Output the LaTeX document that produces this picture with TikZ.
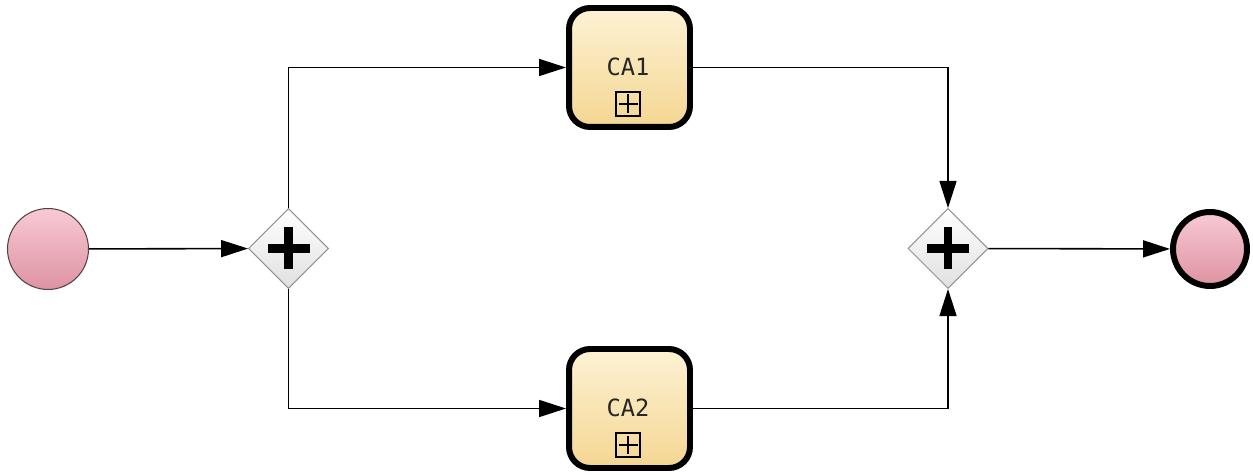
\documentclass[tikz,border=0pt]{standalone}
\usepackage{fontspec}
\setmonofont{DejaVu Sans Mono}
\usetikzlibrary{arrows.meta,shapes.geometric}
\definecolor{tasktop}{RGB}{253,242,212}
\definecolor{taskbot}{RGB}{244,214,146}
\definecolor{evtop}{RGB}{248,202,212}
\definecolor{evbot}{RGB}{222,146,162}
\definecolor{gwbot}{RGB}{224,224,224}
\tikzset{
  flowln/.style={-{Triangle[length=0.54cm,width=0.34cm]}, line width=0.9pt, black},
  taskbox/.style={rectangle, rounded corners=0.42cm, line width=3.4pt, draw=black,
    top color=tasktop, bottom color=taskbot, minimum width=2.42cm, minimum height=2.38cm,
    inner sep=0pt},
  submark/.style={rectangle, draw=black, line width=0.7pt, minimum size=0.48cm, inner sep=0pt,
    path picture={
      \draw[black, line width=0.7pt] ([xshift=-0.19cm]path picture bounding box.center) -- ++(0.38cm,0pt);
      \draw[black, line width=0.7pt] ([yshift=-0.19cm]path picture bounding box.center) -- ++(0pt,0.38cm);
    }},
  andgate/.style={diamond, aspect=1, draw=gray!85, line width=0.6pt, minimum width=1.6cm,
    minimum height=1.6cm, inner sep=0pt, top color=white, bottom color=gwbot,
    path picture={
      \draw[black, line width=5.1pt] ([xshift=-0.42cm]path picture bounding box.center) -- ++(0.84cm,0pt);
      \draw[black, line width=5.1pt] ([yshift=-0.42cm]path picture bounding box.center) -- ++(0pt,0.84cm);
    }},
  startev/.style={circle, draw={rgb,255:red,85;green,65;blue,70}, line width=0.6pt,
    minimum size=1.62cm, inner sep=0pt, top color=evtop, bottom color=evbot},
  endev/.style={circle, draw=black, line width=3.4pt, minimum size=1.48cm, inner sep=0pt,
    top color=evtop, bottom color=evbot},
  tasklbl/.style={font=\ttfamily\fontsize{13.5}{15}\selectfont, text=black!85},
}
\begin{document}
\begin{tikzpicture}[x=0.02cm, y=-0.02cm]
  \useasboundingbox (0,0) rectangle (1253,475);
  % events and gateways
  \node[startev] (start) at (48,249) {};
  \node[andgate] (split) at (288.5,248.5) {};
  \node[andgate] (join) at (948,248.5) {};
  \node[endev] (end) at (1210,249) {};
  % sub-processes
  \node[taskbox] (ca1) at (629.5,67.5) {};
  \node[taskbox] (ca2) at (629.5,408.5) {};
  \node[tasklbl] (ca1txt) at (628,67) {CA1};
  \node[tasklbl] (ca2txt) at (628,408) {CA2};
  \node[submark] (ca1mk) at (628,104) {};
  \node[submark] (ca2mk) at (628,445) {};
  % sequence flows
  \draw[flowln] (start) -- (split);
  \draw[flowln] (split.north) |- (ca1.west);
  \draw[flowln] (split.south) |- (ca2.west);
  \draw[flowln] (ca1.east) -| (join.north);
  \draw[flowln] (ca2.east) -| (join.south);
  \draw[flowln] (join) -- (end);
\end{tikzpicture}
\end{document}
